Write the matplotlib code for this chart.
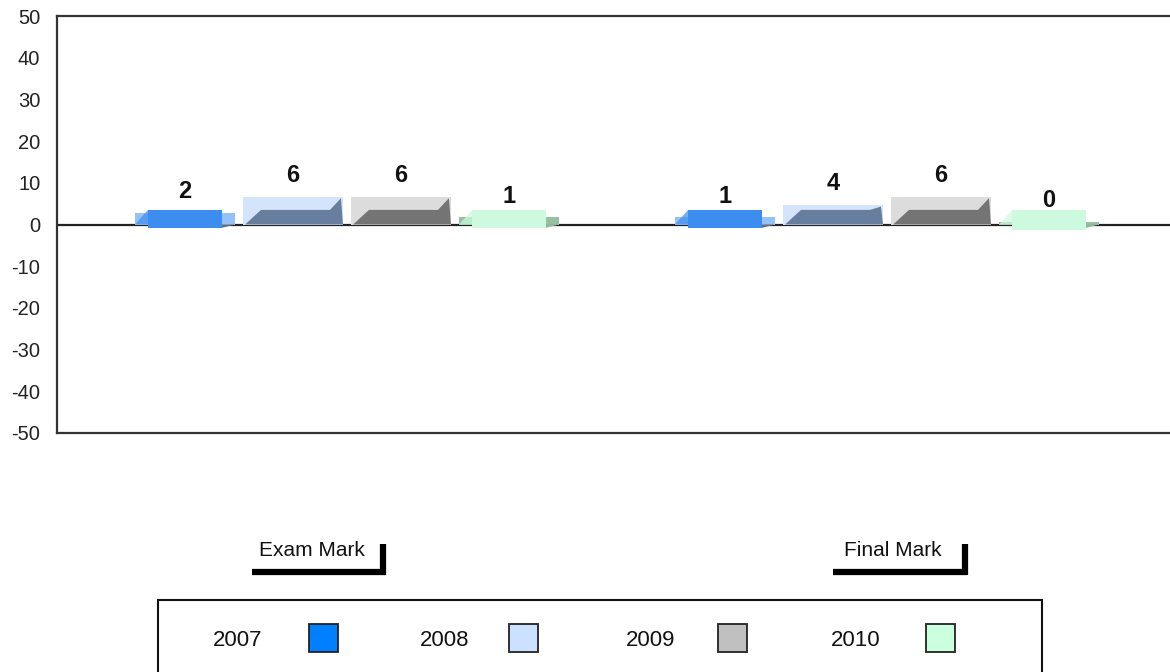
import matplotlib
matplotlib.use("Agg")
import matplotlib.pyplot as plt
import matplotlib.patches as patches
from matplotlib.lines import Line2D
import numpy as np

plt.rcParams['font.family'] = ['Liberation Sans', 'DejaVu Sans']
plt.rcParams['axes.unicode_minus'] = False

categories = ['Exam Mark', 'Final Mark']
years = ['2007', '2008', '2009', '2010']
values = {
    '2007': [2, 1],
    '2008': [6, 4],
    '2009': [6, 6],
    '2010': [1, 0],
}
yticks = [-50, -40, -30, -20, -10, 0, 10, 20, 30, 40, 50]

legend_colors = ['#007fff', '#cce0ff', '#c0c0c0', '#ccffdd']
back_colors = ['#92c2f7', '#d3e4fb', '#dcdcdc', '#97bfa0']
front_colors = ['#3d8df0', '#677e9f', '#747474', '#cdfadf']

W, H = 1170, 672
fig = plt.figure(figsize=(W / 100, H / 100), dpi=100)
ax = fig.add_axes([57 / W, 1 - 433 / H, 1 - 57 / W, (433 - 16) / H])

group_x = np.arange(len(categories))
offsets = [-0.3, -0.1, 0.1, 0.3]
bar_w = 0.185
depth = 0.8      # how far the front slab dips below zero
slab = 3.5       # height of the front slab

ax.axhline(0, color='#222222', lw=1.6, zorder=1)

for i, yr in enumerate(years):
    xs = group_x + offsets[i]
    vals = values[yr]
    # back face
    backs = ax.bar(xs, [v + 0.7 for v in vals], width=bar_w, color=back_colors[i],
                   edgecolor='none', zorder=2)
    for b, v in zip(backs, vals):
        x0 = b.get_x()
        w = b.get_width()
        top = b.get_height()
        fl = x0 + w * 0.13
        fr = x0 + w * 0.87
        if top > slab + 0.3:
            # tall bar: slanted front face with a shaded corner
            poly = patches.Polygon([(x0 + w * 0.02, 0), (fl + w * 0.05, slab), (fr, slab),
                                    (x0 + w * 0.98, top - 0.4), (x0 + w, 0)],
                                   closed=True, facecolor=front_colors[i], edgecolor='none', zorder=3)
            ax.add_patch(poly)
        else:
            # small bar: slab in front of the back wings
            ax.add_patch(patches.Polygon([(x0, 0), (fl, slab), (fl, 0)], closed=True,
                                         facecolor=front_colors[i], edgecolor='none', alpha=0.7, zorder=3))
            ax.add_patch(patches.Polygon([(fr, -depth), (x0 + w, 0), (fr, 0)], closed=True,
                                         facecolor='#607080' if i < 3 else '#8fb59a', edgecolor='none', zorder=3))
            extra = (1 - v) * 0.6 if i == 3 else 0
            ax.add_patch(patches.Rectangle((fl, -depth - extra), fr - fl, slab + depth + extra,
                                           facecolor=front_colors[i], edgecolor='none', zorder=4))
        ax.text(b.get_x() + w / 2, v + 5.8, str(v), ha='center', va='center',
                fontsize=17, fontweight='bold', color='#111111', zorder=6)

ax.set_xlim(-0.537, 1.524)
ax.set_ylim(-50, 50)
ax.set_yticks(yticks)
ax.set_xticks([])
ax.tick_params(axis='y', length=0, pad=12, labelsize=14.5, colors='#222222')
for s in ['left', 'top', 'bottom']:
    ax.spines[s].set_color('#333333')
    ax.spines[s].set_linewidth(1.6)
ax.spines['right'].set_visible(False)


def fx(x):
    return x / W


def fy(y):
    return 1 - y / H


# category labels with their bracket shapes
for cat, (tx, x0, x1) in zip(categories, [(312, 252, 385), (893, 833, 967)]):
    fig.text(fx(tx), fy(550), cat, ha='center', va='center', fontsize=15, color='#111111')
    fig.add_artist(Line2D([fx(x0), fx(x1)], [fy(572), fy(572)], color='black', lw=4.5,
                          solid_capstyle='butt'))
    fig.add_artist(Line2D([fx(x1 - 2.5), fx(x1 - 2.5)], [fy(544), fy(575)], color='black', lw=4.5,
                          solid_capstyle='butt'))

# legend box
fig.add_artist(patches.Rectangle((fx(158), fy(675)), fx(1042 - 158), (675 - 600) / H,
                                 transform=fig.transFigure, facecolor='white',
                                 edgecolor='#111111', lw=1.5))
for yr, col, tx, sx in zip(years, legend_colors, [238, 445, 651, 856], [309, 509, 718, 926]):
    fig.text(fx(tx), fy(640), yr, ha='center', va='center', fontsize=16, color='#111111')
    fig.add_artist(patches.Rectangle((fx(sx), fy(652)), fx(29), 28 / H,
                                     transform=fig.transFigure, facecolor=col,
                                     edgecolor='#222222', lw=1.3))

fig.savefig('out.png', dpi=100)
